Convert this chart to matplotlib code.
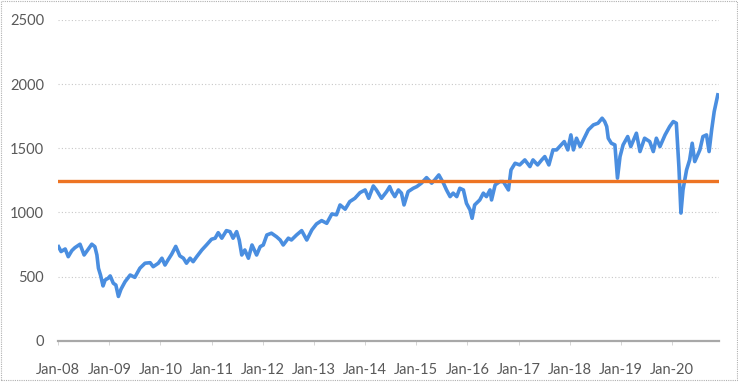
import numpy as np
import pandas as pd
import matplotlib
matplotlib.use('Agg')
import matplotlib.pyplot as plt
import matplotlib.dates as mdates
from matplotlib.patches import Rectangle

# decimal year of each reading and index level
years = [
    2008.01, 2008.06, 2008.14, 2008.20, 2008.27, 2008.33, 2008.43, 2008.51, 2008.59, 2008.66,
    2008.72, 2008.76, 2008.79, 2008.83, 2008.88, 2008.92, 2008.98, 2009.02, 2009.08, 2009.13,
    2009.18, 2009.23, 2009.31, 2009.41, 2009.50, 2009.60, 2009.70, 2009.80, 2009.86, 2009.96,
    2010.03, 2010.09, 2010.15, 2010.22, 2010.30, 2010.38, 2010.45, 2010.51, 2010.58, 2010.64,
    2010.71, 2010.81, 2010.90, 2011.00, 2011.07, 2011.13, 2011.20, 2011.29, 2011.36, 2011.42,
    2011.49, 2011.54, 2011.59, 2011.65, 2011.72, 2011.79, 2011.88, 2011.95, 2012.01, 2012.08,
    2012.17, 2012.27, 2012.34, 2012.40, 2012.50, 2012.56, 2012.66, 2012.76, 2012.86, 2012.96,
    2013.05, 2013.15, 2013.25, 2013.35, 2013.44, 2013.51, 2013.61, 2013.70, 2013.80, 2013.90,
    2014.00, 2014.07, 2014.16, 2014.22, 2014.32, 2014.42, 2014.48, 2014.52, 2014.58, 2014.65,
    2014.71, 2014.76, 2014.84, 2014.94, 2015.01, 2015.10, 2015.20, 2015.30, 2015.36, 2015.44,
    2015.53, 2015.59, 2015.66, 2015.72, 2015.79, 2015.85, 2015.92, 2015.98, 2016.05, 2016.09,
    2016.14, 2016.24, 2016.31, 2016.37, 2016.44, 2016.47, 2016.54, 2016.63, 2016.70, 2016.80,
    2016.85, 2016.93, 2017.02, 2017.12, 2017.22, 2017.28, 2017.37, 2017.45, 2017.51, 2017.59,
    2017.67, 2017.74, 2017.80, 2017.89, 2017.96, 2018.02, 2018.07, 2018.13, 2018.20, 2018.28,
    2018.36, 2018.46, 2018.55, 2018.63, 2018.68, 2018.72, 2018.75, 2018.81, 2018.88, 2018.93,
    2018.98, 2019.04, 2019.13, 2019.19, 2019.30, 2019.37, 2019.46, 2019.56, 2019.63, 2019.69,
    2019.76, 2019.86, 2019.95, 2020.02, 2020.08, 2020.13, 2020.17, 2020.21, 2020.28, 2020.34,
    2020.39, 2020.44, 2020.54, 2020.60, 2020.67, 2020.72, 2020.77, 2020.82, 2020.89,
]
index_level = [
    733, 695, 715, 655, 702, 725, 752, 668, 713, 752,
    733, 668, 565, 512, 427, 473, 487, 505, 448, 434,
    345, 401, 460, 512, 494, 565, 604, 608, 577, 604,
    643, 590, 630, 674, 735, 661, 643, 604, 643, 616,
    655, 707, 746, 791, 799, 842, 799, 858, 850, 799,
    850, 785, 668, 707, 643, 746, 668, 733, 746, 824,
    838, 810, 785, 746, 799, 785, 824, 858, 785, 864,
    910, 936, 915, 988, 981, 1058, 1025, 1084, 1110, 1154,
    1175, 1110, 1206, 1175, 1110, 1162, 1201, 1162, 1123, 1175,
    1150, 1058, 1162, 1188, 1201, 1228, 1271, 1228, 1253, 1292,
    1228, 1175, 1123, 1150, 1123, 1188, 1175, 1071, 1019, 954,
    1058, 1097, 1150, 1123, 1175, 1097, 1214, 1240, 1240, 1175,
    1331, 1383, 1370, 1409, 1357, 1409, 1370, 1409, 1435, 1370,
    1487, 1487, 1513, 1552, 1487, 1604, 1487, 1578, 1513, 1578,
    1643, 1682, 1695, 1734, 1708, 1669, 1578, 1539, 1526, 1267,
    1435, 1526, 1591, 1513, 1617, 1474, 1578, 1552, 1474, 1578,
    1513, 1604, 1669, 1708, 1695, 1357, 995, 1175, 1331, 1409,
    1539, 1396, 1487, 1591, 1604, 1474, 1643, 1786, 1916,
]
average_level = 1245
x_start, x_end = 2008.0, 2020.91
y_ticks = [0, 500, 1000, 1500, 2000, 2500]
tick_years = list(range(2008, 2021))


def to_dates(vals):
    base = pd.Timestamp('2008-01-01')
    return [base + pd.Timedelta(days=(v - 2008.0) * 365.25) for v in vals]


dates = to_dates(years)
lo, hi = to_dates([x_start, x_end])

plt.rcParams['font.family'] = ['Lato', 'DejaVu Sans']
fig = plt.figure(figsize=(7.38, 3.83), dpi=100)
ax = fig.add_axes([0.0786, 0.1104, 0.8954, 0.8376])

for yv in y_ticks[1:]:
    ax.axhline(yv, color='#c8c8c8', lw=0.8, ls=(0, (1, 2)), zorder=1)

ax.plot(dates, index_level, color='#4a8ee0', lw=2.6, zorder=3, solid_joinstyle='round')
ax.plot([lo, hi], [average_level, average_level], color='#ed7423', lw=2.4, zorder=4)

ax.set_xlim(lo, hi)
ax.set_ylim(0, 2500)
ax.set_yticks(y_ticks)
ax.set_xticks([pd.Timestamp(f'{y}-01-01') for y in tick_years])
ax.xaxis.set_major_formatter(mdates.DateFormatter('%b-%y'))

for side in ['top', 'right', 'left']:
    ax.spines[side].set_visible(False)
ax.spines['bottom'].set_color('#a8a8a8')
ax.spines['bottom'].set_linewidth(1.6)
ax.spines['bottom'].set_zorder(2)

ax.tick_params(axis='y', length=0, pad=10, labelsize=10.5, labelcolor='#595959')
ax.tick_params(axis='x', length=3, width=0.6, color='#cfcfcf', pad=13, labelsize=10.5, labelcolor='#595959')

# dotted outer frame like the chart area border
fig.patches.append(Rectangle((0.001, 0.008), 0.997, 0.99, transform=fig.transFigure,
                             fill=False, edgecolor='#b0b0b0', lw=0.8, ls=(0, (1, 1))))

fig.savefig('out.png', dpi=100)
